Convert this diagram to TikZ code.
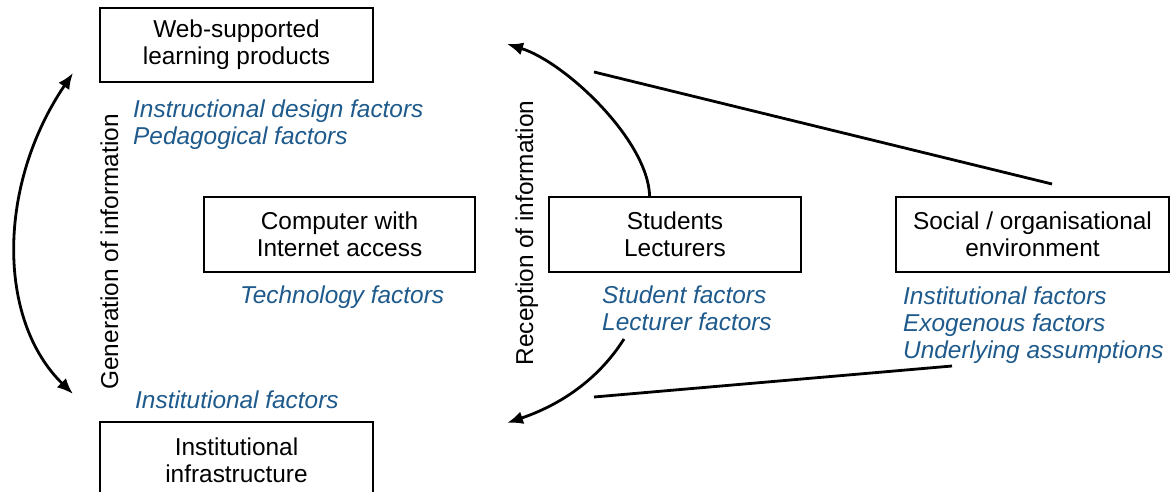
\documentclass[tikz,border=0pt]{standalone}
\usepackage{fontspec}
\setmainfont{Liberation Sans}
\usetikzlibrary{arrows.meta,calc}
\definecolor{factorblue}{RGB}{30,90,140}
\begin{document}
\begin{tikzpicture}[x=1pt,y=-1pt,
  box/.style={draw=black,line width=1.6pt,align=center,inner sep=0pt,
    font=\fontsize{24.4}{27}\selectfont},
  factor/.style={text=factorblue,align=left,inner sep=0pt,anchor=base west,
    font=\fontsize{24.4}{27}\selectfont\itshape},
  sidelabel/.style={rotate=90,anchor=base,inner sep=0pt,
    font=\fontsize{24.4}{27}\selectfont},
  conn/.style={line width=2.8pt},
  tip/.style={-{Latex[length=16pt,width=13pt]}}]
\useasboundingbox[fill=white] (0,0) rectangle (1171,492);
% boxes
\node[box,minimum width=273pt,minimum height=74pt] (web) at (236.5,45) {Web-supported\\learning products};
\node[box,minimum width=271pt,minimum height=75pt] (comp) at (339.5,234.5) {Computer with\\Internet access};
\node[box,minimum width=252pt,minimum height=75pt] (stud) at (675,234.5) {Students\\Lecturers};
\node[box,minimum width=273pt,minimum height=75pt] (soc) at (1032.5,234.5) {Social / organisational\\environment};
\node[box,minimum width=273pt,minimum height=77pt] (inst) at (236.5,460.5) {Institutional\\infrastructure};
% factor labels (anchored at the baseline of their last line)
\node[factor] (f1) at (133,145) {Instructional design factors\\Pedagogical factors};
\node[factor] (f2) at (240,303) {Technology factors};
\node[factor] (f3) at (135,408) {Institutional factors};
\node[factor] (f4) at (602,330) {Student factors\\Lecturer factors};
\node[factor] (f5) at (903,358) {Institutional factors\\Exogenous factors\\Underlying assumptions};
% side labels
\node[sidelabel] (gen) at (118,252) {Generation of information};
\node[sidelabel] (rec) at (533,233) {Reception of information};
% connector end points
\coordinate (gtop) at (73,73);
\coordinate (gbot) at (73,394);
\coordinate (rtop) at (507,44);
\coordinate (rbot) at (507,423);
\coordinate (sfrom) at ($(stud.north west)!0.4!(stud.north east)$);
\coordinate (lfrom) at (624,339);
\coordinate (utop) at (594,72);
\coordinate (uend) at (1052,184);
\coordinate (ltop) at (594,397);
\coordinate (lend) at (952,366);
% connectors
\draw[conn,{Latex[length=16pt,width=13pt]}-{Latex[length=16pt,width=13pt]}] (gtop) .. controls (-3,185) and (-3,320) .. (gbot);
\draw[conn,tip] (sfrom) .. controls (648,140) and (565,62) .. (rtop);
\draw[conn,tip] (lfrom) .. controls (598,380) and (560,405) .. (rbot);
\draw[conn] (utop) -- (uend);
\draw[conn] (ltop) -- (lend);
\end{tikzpicture}
\end{document}
